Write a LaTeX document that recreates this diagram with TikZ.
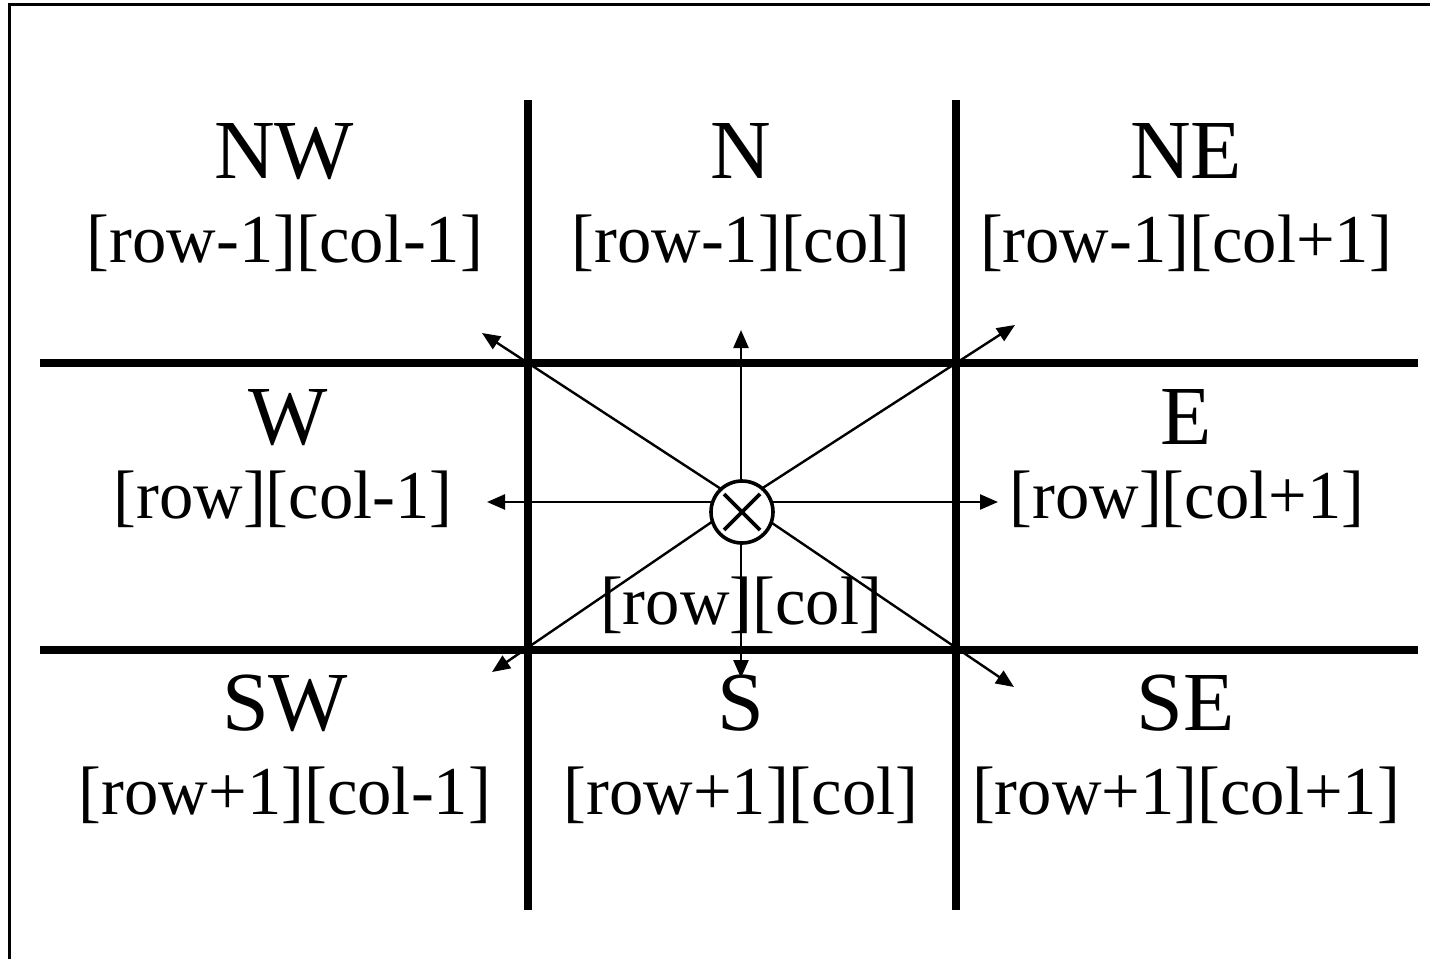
\documentclass[tikz,border=0pt]{standalone}
\usepackage{fontspec}
\setmainfont{Liberation Serif}
\usetikzlibrary{arrows.meta}
\begin{document}
\begin{tikzpicture}[x=0.5pt,y=-0.5pt,
 gridline/.style={line width=3.7pt},
 arr/.style={line width=1.2pt,-{Triangle[length=9pt,width=7.5pt]}},
 title/.style={font=\fontsize{42}{46}\selectfont, anchor=base, inner sep=0pt},
 lab/.style={font=\fontsize{34.3}{38}\selectfont, anchor=base, inner sep=0pt},
 frame/.style={line width=1.5pt}]
\useasboundingbox (0,0) rectangle (1430,959);
% frame
\coordinate (fb) at (9,959);
\coordinate (fc) at (9,4.5);
\coordinate (fr) at (1430,4.5);
\draw[frame] (fb) -- (fc) -- (fr);
% grid
\coordinate (v1t) at (528,100); \coordinate (v1b) at (528,910);
\coordinate (v2t) at (956,100); \coordinate (v2b) at (956,910);
\coordinate (h1l) at (40,363); \coordinate (h1r) at (1418,363);
\coordinate (h2l) at (40,650); \coordinate (h2r) at (1418,650);
\draw[gridline] (v1t) -- (v1b);
\draw[gridline] (v2t) -- (v2b);
\draw[gridline] (h1l) -- (h1r);
\draw[gridline] (h2l) -- (h2r);
% arrows
\coordinate (c) at (741,502);
\coordinate (tNW) at (482,333);
\coordinate (tN) at (741,330);
\coordinate (tNE) at (1015,325);
\coordinate (tW) at (487,502);
\coordinate (tE) at (998,502);
\coordinate (tSW) at (492,672);
\coordinate (tS) at (741,678);
\coordinate (tSE) at (1014,687);
\foreach \t in {tNW,tN,tNE,tW,tE,tSW,tS,tSE} \draw[arr] (c) -- (\t);
% centre circle
\node[circle, draw, fill=white, line width=1.8pt, minimum size=31pt, inner sep=0pt] (ctr) at (742,512) {};
\draw[line width=1.8pt] (ctr.center) ++(-18,-18) -- ++(36,36);
\draw[line width=1.8pt] (ctr.center) ++(18,-18) -- ++(-36,36);
% texts
\node[title] (nw) at (284,178) {NW};
\node[lab] (nwl) at (285,262) {[row-1][col-1]};
\node[title] (n) at (741,178) {N};
\node[lab] (nl) at (741,262) {[row-1][col]};
\node[title] (ne) at (1186,178) {NE};
\node[lab] (nel) at (1186,262) {[row-1][col+1]};
\node[title] (w) at (288,444) {W};
\node[lab] (wl) at (283,518) {[row][col-1]};
\node[title] (e) at (1186,444) {E};
\node[lab] (el) at (1187,518) {[row][col+1]};
\node[lab] (cl) at (741,624) {[row][col]};
\node[title] (sw) at (285,730) {SW};
\node[lab] (swl) at (285,814) {[row+1][col-1]};
\node[title] (s) at (741,730) {S};
\node[lab] (sl) at (741,814) {[row+1][col]};
\node[title] (se) at (1186,730) {SE};
\node[lab] (sel) at (1186,814) {[row+1][col+1]};
\end{tikzpicture}
\end{document}
